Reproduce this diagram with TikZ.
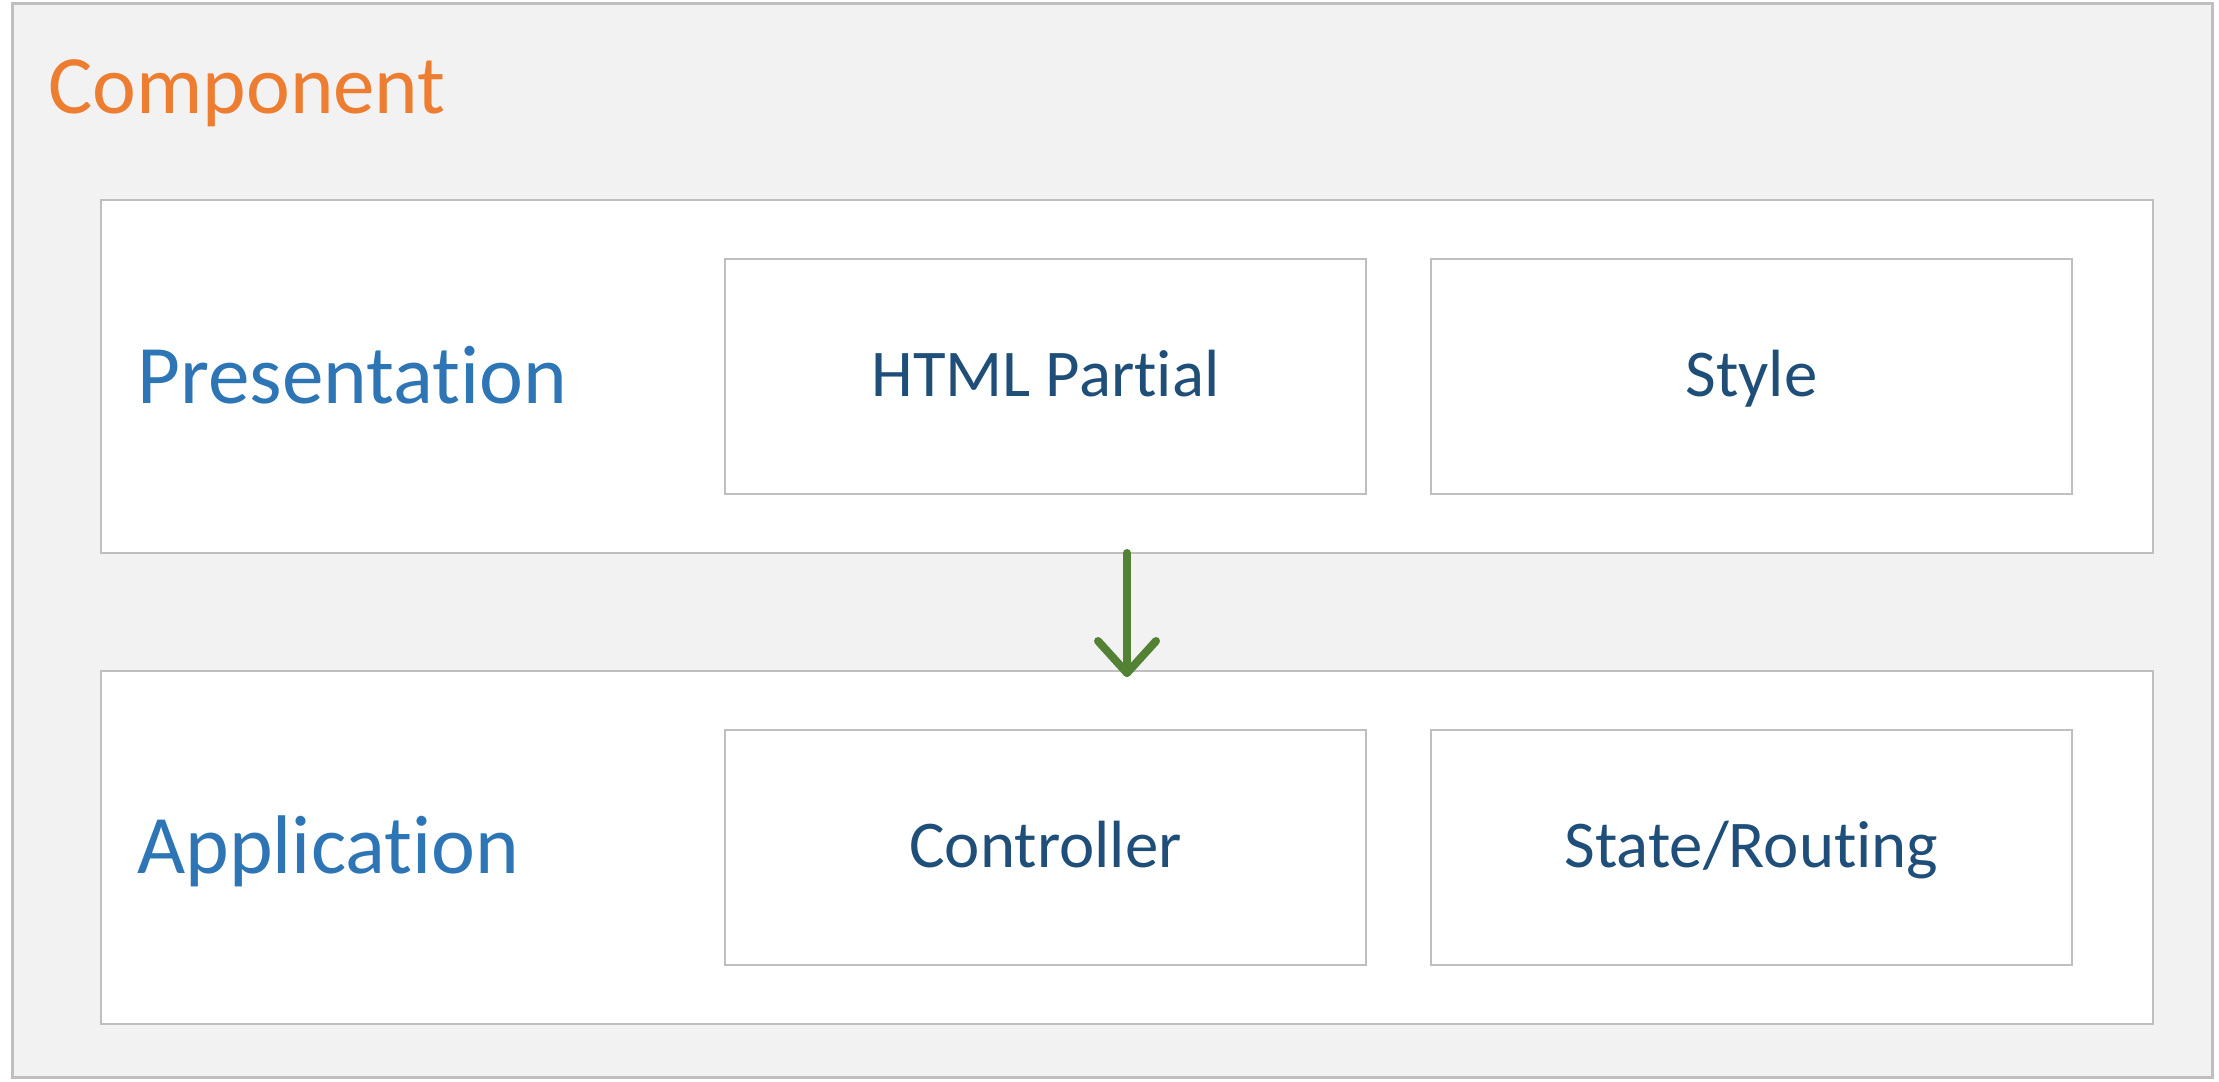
\documentclass[tikz,border=0pt]{standalone}
\usepackage{fontspec}
\setmainfont[Ligatures={NoCommon}]{Carlito}
\definecolor{outerfill}{HTML}{F2F2F2}
\definecolor{boxline}{HTML}{BFBFBF}
\definecolor{orangetxt}{HTML}{ED7D31}
\definecolor{bluetxt}{HTML}{2E75B6}
\definecolor{darkbluetxt}{HTML}{1F4E79}
\definecolor{arrowgreen}{HTML}{548235}
\begin{document}
\begin{tikzpicture}[x=0.5pt,y=-0.5pt,
  outerbox/.style={draw=boxline,line width=1.5pt,fill=outerfill},
  layerbox/.style={draw=boxline,line width=1.2pt,fill=white},
  partbox/.style={draw=boxline,line width=1.2pt,fill=white},
  title/.style={text=orangetxt,font=\fontsize{41.5}{48}\selectfont,anchor=base west,inner sep=0pt},
  layerlabel/.style={text=bluetxt,font=\fontsize{41.6}{50}\selectfont,anchor=base west,inner sep=0pt},
  parttext/.style={text=darkbluetxt,font=\fontsize{33.4}{40}\selectfont,anchor=base,inner sep=0pt},
  flow/.style={draw=arrowgreen,line width=4pt,line cap=round}
]
\useasboundingbox[fill=white] (0,0) rectangle (2219,1081);
\draw[outerbox] (12,4) rectangle (2212,1077);
\node[title] (comp) at (48,113) {Component};

\draw[layerbox] (101,200) rectangle (2153,553);
\coordinate (presbot) at (1127,553);
\draw[layerbox] (101,671) rectangle (2153,1024);
\coordinate (apptop) at (1127,673);

\node[layerlabel] (pres) at (137,403) {Presentation};
\node[layerlabel] (app) at (137,873) {Application};

\draw[partbox] (725,259) rectangle (1366,494);
\node[parttext] (html) at (1045.5,396) {HTML Partial};
\draw[partbox] (1431,259) rectangle (2072,494);
\node[parttext] (style) at (1751.5,396) {Style};
\draw[partbox] (725,730) rectangle (1366,965);
\node[parttext] (ctrl) at (1045.5,867) {Controller};
\draw[partbox] (1431,730) rectangle (2072,965);
\node[parttext] (state) at (1751.5,867) {State/Routing};

\draw[flow] (presbot) -- (apptop);
\draw[flow,line join=round] ([xshift=-14.5pt,yshift=16pt]apptop) -- (apptop) -- ([xshift=14.5pt,yshift=16pt]apptop);
\end{tikzpicture}
\end{document}
